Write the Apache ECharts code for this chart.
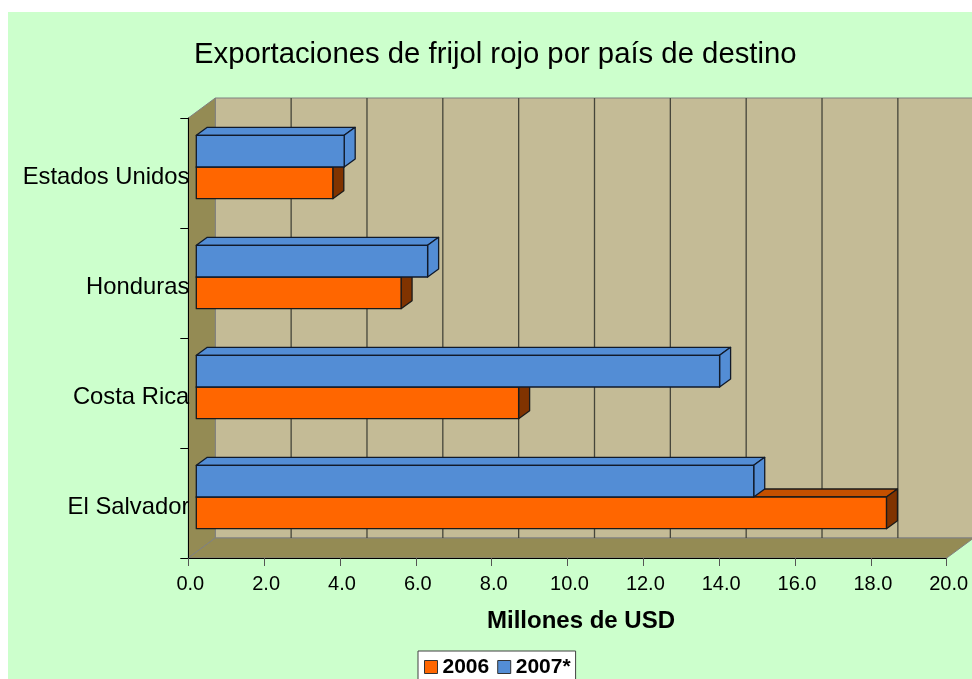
<!DOCTYPE html>
<html><head><meta charset="utf-8">
<script src="https://cdn.jsdelivr.net/npm/echarts@6/dist/echarts.min.js"></script>
<style>html,body{margin:0;padding:0;background:#fff}#c{width:972px;height:679px}</style>
</head><body><div id="c"></div>
<script>
const categories = ['El Salvador', 'Costa Rica', 'Honduras', 'Estados Unidos'];
const values2006 = [18.2, 8.5, 5.4, 3.6];
const values2007 = [14.7, 13.8, 6.1, 3.9];
const seriesNames = ['2006', '2007*'];
const titleText = 'Exportaciones de frijol rojo por país de destino';
const axisTitle = 'Millones de USD';
const FONT = '"Liberation Sans", Arial, sans-serif';
const WALL_DX = 27, WALL_DY = -20, BAR_OX = 8, BAR_OY = -6, BAR_DX = 11, BAR_DY = -8;
const BAND_FRAC = 0.288;

function poly(pts, fill, stroke, lw) {
  return { type: 'polygon', shape: { points: pts }, style: { fill: fill, stroke: stroke, lineWidth: lw === undefined ? 1.3 : lw, lineJoin: 'round' } };
}
function barRenderer(front, top, side, edge, slot) {
  return function (params, api) {
    const end = api.coord([api.value(0), api.value(1)]);
    const start = api.coord([0, api.value(1)]);
    const h = api.size([0, 1])[1] * BAND_FRAC;
    const x0 = start[0] + BAR_OX, x1 = end[0] + BAR_OX;
    const yc = start[1] + BAR_OY;
    const y0 = slot === 0 ? yc : yc - h, y1 = y0 + h;
    return { type: 'group', children: [
      poly([[x0, y0], [x1, y0], [x1 + BAR_DX, y0 + BAR_DY], [x0 + BAR_DX, y0 + BAR_DY]], top, edge),
      poly([[x1, y0], [x1 + BAR_DX, y0 + BAR_DY], [x1 + BAR_DX, y1 + BAR_DY], [x1, y1]], side, edge),
      poly([[x0, y0], [x1, y0], [x1, y1], [x0, y1]], front, edge)
    ] };
  };
}
function wallRenderer(params, api) {
  const a = api.coord([0, 0]);
  const b = api.coord([20, 0]);
  const band = api.size([0, 1])[1];
  const L = a[0], R = b[0], B = a[1] + band / 2, T = B - band * categories.length;
  const kids = [
    poly([[L + WALL_DX, T + WALL_DY], [R + WALL_DX, T + WALL_DY], [R + WALL_DX, B + WALL_DY], [L + WALL_DX, B + WALL_DY]], '#C4BB96', '#808080', 1),
    poly([[L, T], [L + WALL_DX, T + WALL_DY], [L + WALL_DX, B + WALL_DY], [L, B]], '#948B54', '#808080', 1),
    poly([[L, B], [R, B], [R + WALL_DX, B + WALL_DY], [L + WALL_DX, B + WALL_DY]], '#948B54', '#808080', 1)
  ];
  for (let v = 2; v <= 20; v += 2) {
    const x = api.coord([v, 0])[0] + WALL_DX;
    kids.push({ type: 'line', shape: { x1: x, y1: T + WALL_DY, x2: x, y2: B + WALL_DY }, style: { stroke: '#45453a', lineWidth: 1.3 } });
  }
  return { type: 'group', children: kids };
}
const chart = echarts.init(document.getElementById('c'), null, { renderer: 'canvas' });
chart.setOption({
  animation: false,
  backgroundColor: '#ffffff',
  textStyle: { fontFamily: FONT },
  graphic: [{ type: 'rect', z: -1, silent: true, shape: { x: 8, y: 12, width: 964, height: 667 }, style: { fill: '#CCFFCC' } }],
  title: { text: titleText, left: 189, top: 35, textStyle: { fontFamily: FONT, fontWeight: 'normal', fontSize: 29.3, color: '#000' } },
  legend: {
    data: seriesNames, left: 418, top: 651, orient: 'horizontal', icon: 'rect',
    itemWidth: 13, itemHeight: 13, itemGap: 8, padding: [3, 5, 3, 6],
    backgroundColor: '#fff', borderColor: '#404040', borderWidth: 1,
    itemStyle: { borderColor: '#333', borderWidth: 1 },
    textStyle: { fontFamily: FONT, fontWeight: 'bold', fontSize: 21, lineHeight: 26, color: '#000' }
  },
  grid: { left: 188.3, top: 118, width: 758.4, height: 440, containLabel: false },
  xAxis: {
    type: 'value', min: 0, max: 20, interval: 2, z: 5,
    name: axisTitle, nameLocation: 'middle', nameGap: 51,
    nameTextStyle: { fontFamily: FONT, fontWeight: 'bold', fontSize: 24, color: '#000', padding: [0, 0, 0, 27] },
    axisLine: { show: true, lineStyle: { color: '#000', width: 1 } },
    axisTick: { show: true, length: 8, lineStyle: { color: '#555' } },
    splitLine: { show: false },
    axisLabel: { show: true, fontFamily: FONT, fontSize: 20, color: '#000', margin: 16, padding: [0, 0, 0, 4], showMaxLabel: true, showMinLabel: true, hideOverlap: false, formatter: v => v.toFixed(1) }
  },
  yAxis: {
    type: 'category', data: categories, z: 5,
    axisLine: { show: true, lineStyle: { color: '#000', width: 1 } },
    axisTick: { show: true, length: 8, alignWithLabel: false, lineStyle: { color: '#000' } },
    axisLabel: { show: true, fontFamily: FONT, fontSize: 23.8, color: '#000', margin: -1, verticalAlign: 'top', lineHeight: 8 }
  },
  series: [
    { type: 'custom', name: 'walls', z: 1, silent: true, renderItem: wallRenderer, data: [[0, 0]], encode: { x: 0, y: 1 } },
    { type: 'custom', name: seriesNames[0], z: 3, itemStyle: { color: '#FF6600' },
      renderItem: barRenderer('#FF6600', '#C55000', '#803300', '#1a1a1a', 0),
      data: values2006.map((v, i) => [v, i]), encode: { x: 0, y: 1 } },
    { type: 'custom', name: seriesNames[1], z: 3, itemStyle: { color: '#538DD5' },
      renderItem: barRenderer('#538DD5', '#538DD5', '#538DD5', '#111a2a', 1),
      data: values2007.map((v, i) => [v, i]), encode: { x: 0, y: 1 } }
  ]
});
</script></body></html>
